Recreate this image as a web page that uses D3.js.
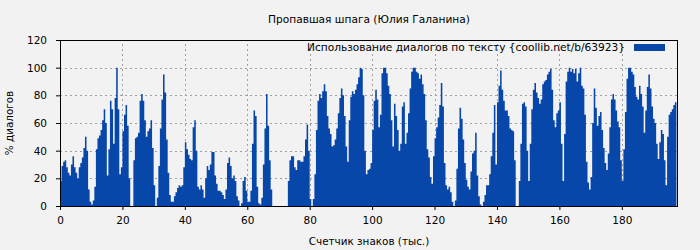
<!DOCTYPE html>
<html>
<head>
<meta charset="utf-8">
<script src="https://cdn.jsdelivr.net/npm/d3@7.9.0/dist/d3.min.js"></script>
<style>
  body { margin: 0; background: #f2f2f2; }
  svg { display: block; }
  text { font-family: "DejaVu Sans", sans-serif; fill: #000; }
</style>
</head>
<body>
<div id="chart"></div>
<script>
// share of dialogue (%) per 0.5k characters of text
const step = 0.5;
const dialogPct = [
  18,29,32,33,28,24,22,30,36,28,24,20,28,31,35,42,50,40,12,3,
  1,4,14,41,49,51,55,62,70,60,22,41,76,70,45,78,100,70,23,28,
  54,66,73,58,20,0,0,33,49,50,53,76,81,76,62,50,54,56,62,42,
  15,0,6,29,56,77,95,82,48,24,8,3,3,7,10,13,15,14,15,28,
  46,41,37,34,33,57,62,40,14,12,15,12,6,20,29,26,30,39,39,22,
  16,11,11,10,8,5,12,31,35,29,20,22,18,7,4,0,2,18,21,11,
  3,3,11,45,69,65,14,2,1,6,30,56,81,58,33,12,0,0,0,0,
  0,0,0,0,0,0,18,33,36,36,28,26,33,33,32,32,36,48,59,40,
  5,0,5,23,55,76,81,78,83,88,83,65,56,52,43,44,48,56,67,78,
  85,80,65,43,32,62,79,83,81,84,88,93,100,99,80,40,23,26,27,31,
  55,76,84,77,57,66,96,100,100,96,87,81,62,43,74,65,55,40,45,72,
  75,45,53,67,85,97,100,100,97,96,92,95,88,81,62,41,35,21,16,36,
  49,57,64,73,89,72,31,15,12,14,10,3,0,4,27,56,71,63,48,31,
  19,14,12,25,38,40,53,22,7,1,0,3,8,15,15,23,36,53,73,30,
  75,87,98,84,76,69,69,65,56,55,54,33,0,0,18,45,74,75,72,40,
  18,45,70,84,89,82,78,74,77,88,90,91,95,97,99,84,62,57,67,69,
  75,45,18,52,90,97,100,97,99,96,99,90,96,100,87,85,66,32,17,12,
  21,60,85,71,58,65,68,55,42,31,26,38,57,77,81,77,69,61,57,33,
  18,41,68,92,100,100,97,95,86,79,77,87,81,72,53,69,86,95,85,72,
  63,60,45,34,46,55,52,33,15,50,66,68,70,73,75
];
const xTicks = [0, 20, 40, 60, 80, 100, 120, 140, 160, 180];
const yTicks = [0, 20, 40, 60, 80, 100, 120];

const title = 'Пропавшая шпага (Юлия Галанина)';
const legendLabel = 'Использование диалогов по тексту {coollib.net/b/63923}';
const xLabel = 'Счетчик знаков (тыс.)';
const yLabel = '% диалогов';

const width = 700;
const height = 250;
const margin = { top: 40, right: 22, bottom: 44, left: 60 };
const barColor = '#0847aa';

const data = dialogPct.map((v, i) => ({ x: i * step, y: v }));
// closing point so the last step has width
data.push({ x: data.length * step, y: dialogPct[dialogPct.length - 1] });

const svg = d3.select('#chart')
  .append('svg')
  .attr('width', width)
  .attr('height', height);

svg.append('rect')
  .attr('width', width)
  .attr('height', height)
  .attr('fill', '#f2f2f2');

const x = d3.scaleLinear()
  .domain([0, 198])
  .range([margin.left, width - margin.right]);

const y = d3.scaleLinear()
  .domain([0, 120])
  .range([height - margin.bottom, margin.top]);

// grid
const grid = svg.append('g')
  .attr('stroke', '#a0a0a0')
  .attr('stroke-width', 1)
  .attr('stroke-dasharray', '2,3');

grid.selectAll('line.v')
  .data(xTicks.filter((d) => d > 0))
  .join('line')
  .attr('class', 'v')
  .attr('x1', (d) => Math.round(x(d)) + 0.5)
  .attr('x2', (d) => Math.round(x(d)) + 0.5)
  .attr('y1', y(0))
  .attr('y2', y(120));

grid.selectAll('line.h')
  .data(yTicks.filter((d) => d > 0 && d < 120))
  .join('line')
  .attr('class', 'h')
  .attr('x1', x(0))
  .attr('x2', x(198))
  .attr('y1', (d) => Math.round(y(d)) + 0.5)
  .attr('y2', (d) => Math.round(y(d)) + 0.5);

// bars, drawn as one stepped area
const area = d3.area()
  .curve(d3.curveStepAfter)
  .x((d) => x(d.x))
  .y0(y(0))
  .y1((d) => y(d.y));

svg.append('path')
  .datum(data)
  .attr('fill', barColor)
  .attr('d', area);

// axes
const xAxis = d3.axisBottom(x)
  .tickValues(xTicks)
  .tickSize(4)
  .tickSizeOuter(0);

const yAxis = d3.axisLeft(y)
  .tickValues(yTicks)
  .tickSize(4)
  .tickSizeOuter(0);

const gx = svg.append('g')
  .attr('transform', `translate(0, ${height - margin.bottom})`)
  .call(xAxis);

const gy = svg.append('g')
  .attr('transform', `translate(${margin.left}, 0)`)
  .call(yAxis);

[gx, gy].forEach((g) => {
  g.select('.domain').remove();
  g.selectAll('line').attr('stroke', '#000');
  g.selectAll('text')
    .style('font-family', '"DejaVu Sans", sans-serif')
    .style('font-size', '10.5px');
});
gx.selectAll('text').attr('dy', '0.71em').attr('y', 11);
gy.selectAll('text').attr('x', -13);

// frame
svg.append('rect')
  .attr('x', x(0) + 0.5)
  .attr('y', y(120) + 0.5)
  .attr('width', x(198) - x(0) - 1)
  .attr('height', y(0) - y(120))
  .attr('fill', 'none')
  .attr('stroke', '#000')
  .attr('stroke-width', 1);

// titles
svg.append('text')
  .attr('x', (x(0) + x(198)) / 2)
  .attr('y', 23)
  .attr('text-anchor', 'middle')
  .style('font-size', '10.6px')
  .text(title);

svg.append('text')
  .attr('x', (x(0) + x(198)) / 2)
  .attr('y', 245)
  .attr('text-anchor', 'middle')
  .style('font-size', '10.4px')
  .text(xLabel);

svg.append('text')
  .attr('transform', `translate(13, ${(y(0) + y(120)) / 2}) rotate(-90)`)
  .attr('text-anchor', 'middle')
  .style('font-size', '10.4px')
  .text(yLabel);

// legend
svg.append('text')
  .attr('x', 625)
  .attr('y', 51)
  .attr('text-anchor', 'end')
  .style('font-size', '10.6px')
  .text(legendLabel);

svg.append('rect')
  .attr('x', 634)
  .attr('y', 44)
  .attr('width', 31)
  .attr('height', 7)
  .attr('fill', barColor);
</script>
</body>
</html>
